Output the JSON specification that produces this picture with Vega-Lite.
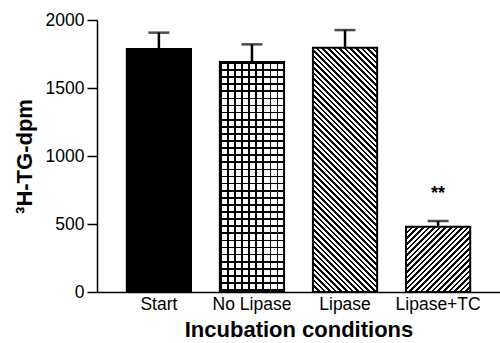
{"$schema":"https://vega.github.io/schema/vega-lite/v6.json","width":403,"height":272,"autosize":{"type":"none"},"padding":{"left":97,"top":20,"right":0,"bottom":51},"background":"white",
"data":{"values":[{"cond":"Start","value":1787,"upper":1907},{"cond":"No Lipase","value":1691,"upper":1821},{"cond":"Lipase","value":1796,"upper":1926},{"cond":"Lipase+TC","value":480,"upper":522,"sig":"**","sigpos":685}]},
"encoding":{"x":{"field":"cond","type":"nominal","title":"Incubation conditions","scale":{"domain":["Start","No Lipase","Lipase","Lipase+TC"],"paddingInner":0.31,"paddingOuter":0.32}}},
"layer":[
{"transform":[{"filter":"datum.cond==='Start'"}],"mark":{"type":"bar","fill":"#000","stroke":"#000","strokeWidth":2},"encoding":{"y":{"field":"value","type":"quantitative","title":"³H-TG-dpm","scale":{"domain":[0,2000],"nice":false}}}},
{"transform":[{"filter":"datum.cond==='No Lipase'"}],"mark":{"type":"bar","strokeWidth":0,"fill":{"gradient":"linear","x1":0,"y1":0,"x2":5.528,"y2":0,"stops":[{"offset":0,"color":"#000"},{"offset":0.005,"color":"#000"},{"offset":0.005,"color":"#fff"},{"offset":0.02,"color":"#fff"},{"offset":0.02,"color":"#000"},{"offset":0.025,"color":"#000"},{"offset":0.025,"color":"#fff"},{"offset":0.04,"color":"#fff"},{"offset":0.04,"color":"#000"},{"offset":0.045,"color":"#000"},{"offset":0.045,"color":"#fff"},{"offset":0.06,"color":"#fff"},{"offset":0.06,"color":"#000"},{"offset":0.065,"color":"#000"},{"offset":0.065,"color":"#fff"},{"offset":0.08,"color":"#fff"},{"offset":0.08,"color":"#000"},{"offset":0.085,"color":"#000"},{"offset":0.085,"color":"#fff"},{"offset":0.1,"color":"#fff"},{"offset":0.1,"color":"#000"},{"offset":0.105,"color":"#000"},{"offset":0.105,"color":"#fff"},{"offset":0.12,"color":"#fff"},{"offset":0.12,"color":"#000"},{"offset":0.125,"color":"#000"},{"offset":0.125,"color":"#fff"},{"offset":0.14,"color":"#fff"},{"offset":0.14,"color":"#000"},{"offset":0.145,"color":"#000"},{"offset":0.145,"color":"#fff"},{"offset":0.16,"color":"#fff"},{"offset":0.16,"color":"#000"},{"offset":0.165,"color":"#000"},{"offset":0.165,"color":"#fff"},{"offset":0.18,"color":"#fff"},{"offset":0.18,"color":"#000"},{"offset":0.185,"color":"#000"},{"offset":0.185,"color":"#fff"},{"offset":0.2,"color":"#fff"}]}},"encoding":{"y":{"field":"value","type":"quantitative","title":"³H-TG-dpm","scale":{"domain":[0,2000],"nice":false}}}},
{"transform":[{"filter":"datum.cond==='No Lipase'"}],"mark":{"type":"bar","stroke":"#000","strokeWidth":2,"fill":{"gradient":"linear","x1":0,"y1":0,"x2":0,"y2":1.5436,"stops":[{"offset":0,"color":"#000"},{"offset":0.005,"color":"#000"},{"offset":0.005,"color":"rgba(0,0,0,0)"},{"offset":0.02,"color":"rgba(0,0,0,0)"},{"offset":0.02,"color":"#000"},{"offset":0.025,"color":"#000"},{"offset":0.025,"color":"rgba(0,0,0,0)"},{"offset":0.04,"color":"rgba(0,0,0,0)"},{"offset":0.04,"color":"#000"},{"offset":0.045,"color":"#000"},{"offset":0.045,"color":"rgba(0,0,0,0)"},{"offset":0.06,"color":"rgba(0,0,0,0)"},{"offset":0.06,"color":"#000"},{"offset":0.065,"color":"#000"},{"offset":0.065,"color":"rgba(0,0,0,0)"},{"offset":0.08,"color":"rgba(0,0,0,0)"},{"offset":0.08,"color":"#000"},{"offset":0.085,"color":"#000"},{"offset":0.085,"color":"rgba(0,0,0,0)"},{"offset":0.1,"color":"rgba(0,0,0,0)"},{"offset":0.1,"color":"#000"},{"offset":0.105,"color":"#000"},{"offset":0.105,"color":"rgba(0,0,0,0)"},{"offset":0.12,"color":"rgba(0,0,0,0)"},{"offset":0.12,"color":"#000"},{"offset":0.125,"color":"#000"},{"offset":0.125,"color":"rgba(0,0,0,0)"},{"offset":0.14,"color":"rgba(0,0,0,0)"},{"offset":0.14,"color":"#000"},{"offset":0.145,"color":"#000"},{"offset":0.145,"color":"rgba(0,0,0,0)"},{"offset":0.16,"color":"rgba(0,0,0,0)"},{"offset":0.16,"color":"#000"},{"offset":0.165,"color":"#000"},{"offset":0.165,"color":"rgba(0,0,0,0)"},{"offset":0.18,"color":"rgba(0,0,0,0)"},{"offset":0.18,"color":"#000"},{"offset":0.185,"color":"#000"},{"offset":0.185,"color":"rgba(0,0,0,0)"},{"offset":0.2,"color":"rgba(0,0,0,0)"},{"offset":0.2,"color":"#000"},{"offset":0.205,"color":"#000"},{"offset":0.205,"color":"rgba(0,0,0,0)"},{"offset":0.22,"color":"rgba(0,0,0,0)"},{"offset":0.22,"color":"#000"},{"offset":0.225,"color":"#000"},{"offset":0.225,"color":"rgba(0,0,0,0)"},{"offset":0.24,"color":"rgba(0,0,0,0)"},{"offset":0.24,"color":"#000"},{"offset":0.245,"color":"#000"},{"offset":0.245,"color":"rgba(0,0,0,0)"},{"offset":0.26,"color":"rgba(0,0,0,0)"},{"offset":0.26,"color":"#000"},{"offset":0.265,"color":"#000"},{"offset":0.265,"color":"rgba(0,0,0,0)"},{"offset":0.28,"color":"rgba(0,0,0,0)"},{"offset":0.28,"color":"#000"},{"offset":0.285,"color":"#000"},{"offset":0.285,"color":"rgba(0,0,0,0)"},{"offset":0.3,"color":"rgba(0,0,0,0)"},{"offset":0.3,"color":"#000"},{"offset":0.305,"color":"#000"},{"offset":0.305,"color":"rgba(0,0,0,0)"},{"offset":0.32,"color":"rgba(0,0,0,0)"},{"offset":0.32,"color":"#000"},{"offset":0.325,"color":"#000"},{"offset":0.325,"color":"rgba(0,0,0,0)"},{"offset":0.34,"color":"rgba(0,0,0,0)"},{"offset":0.34,"color":"#000"},{"offset":0.345,"color":"#000"},{"offset":0.345,"color":"rgba(0,0,0,0)"},{"offset":0.36,"color":"rgba(0,0,0,0)"},{"offset":0.36,"color":"#000"},{"offset":0.365,"color":"#000"},{"offset":0.365,"color":"rgba(0,0,0,0)"},{"offset":0.38,"color":"rgba(0,0,0,0)"},{"offset":0.38,"color":"#000"},{"offset":0.385,"color":"#000"},{"offset":0.385,"color":"rgba(0,0,0,0)"},{"offset":0.4,"color":"rgba(0,0,0,0)"},{"offset":0.4,"color":"#000"},{"offset":0.405,"color":"#000"},{"offset":0.405,"color":"rgba(0,0,0,0)"},{"offset":0.42,"color":"rgba(0,0,0,0)"},{"offset":0.42,"color":"#000"},{"offset":0.425,"color":"#000"},{"offset":0.425,"color":"rgba(0,0,0,0)"},{"offset":0.44,"color":"rgba(0,0,0,0)"},{"offset":0.44,"color":"#000"},{"offset":0.445,"color":"#000"},{"offset":0.445,"color":"rgba(0,0,0,0)"},{"offset":0.46,"color":"rgba(0,0,0,0)"},{"offset":0.46,"color":"#000"},{"offset":0.465,"color":"#000"},{"offset":0.465,"color":"rgba(0,0,0,0)"},{"offset":0.48,"color":"rgba(0,0,0,0)"},{"offset":0.48,"color":"#000"},{"offset":0.485,"color":"#000"},{"offset":0.485,"color":"rgba(0,0,0,0)"},{"offset":0.5,"color":"rgba(0,0,0,0)"},{"offset":0.5,"color":"#000"},{"offset":0.505,"color":"#000"},{"offset":0.505,"color":"rgba(0,0,0,0)"},{"offset":0.52,"color":"rgba(0,0,0,0)"},{"offset":0.52,"color":"#000"},{"offset":0.525,"color":"#000"},{"offset":0.525,"color":"rgba(0,0,0,0)"},{"offset":0.54,"color":"rgba(0,0,0,0)"},{"offset":0.54,"color":"#000"},{"offset":0.545,"color":"#000"},{"offset":0.545,"color":"rgba(0,0,0,0)"},{"offset":0.56,"color":"rgba(0,0,0,0)"},{"offset":0.56,"color":"#000"},{"offset":0.565,"color":"#000"},{"offset":0.565,"color":"rgba(0,0,0,0)"},{"offset":0.58,"color":"rgba(0,0,0,0)"},{"offset":0.58,"color":"#000"},{"offset":0.585,"color":"#000"},{"offset":0.585,"color":"rgba(0,0,0,0)"},{"offset":0.6,"color":"rgba(0,0,0,0)"},{"offset":0.6,"color":"#000"},{"offset":0.605,"color":"#000"},{"offset":0.605,"color":"rgba(0,0,0,0)"},{"offset":0.62,"color":"rgba(0,0,0,0)"},{"offset":0.62,"color":"#000"},{"offset":0.625,"color":"#000"},{"offset":0.625,"color":"rgba(0,0,0,0)"},{"offset":0.64,"color":"rgba(0,0,0,0)"},{"offset":0.64,"color":"#000"},{"offset":0.645,"color":"#000"},{"offset":0.645,"color":"rgba(0,0,0,0)"},{"offset":0.66,"color":"rgba(0,0,0,0)"}]}},"encoding":{"y":{"field":"value","type":"quantitative","title":"³H-TG-dpm","scale":{"domain":[0,2000],"nice":false}}}},
{"transform":[{"filter":"datum.cond==='Lipase'"}],"mark":{"type":"bar","stroke":"#000","strokeWidth":2,"fill":{"gradient":"linear","x1":0,"y1":1,"x2":0.3757,"y2":-0.4293,"stops":[{"offset":0,"color":"#000"},{"offset":0.007,"color":"#000"},{"offset":0.007,"color":"#fff"},{"offset":0.015,"color":"#fff"},{"offset":0.015,"color":"#000"},{"offset":0.022,"color":"#000"},{"offset":0.022,"color":"#fff"},{"offset":0.03,"color":"#fff"},{"offset":0.03,"color":"#000"},{"offset":0.037,"color":"#000"},{"offset":0.037,"color":"#fff"},{"offset":0.045,"color":"#fff"},{"offset":0.045,"color":"#000"},{"offset":0.052,"color":"#000"},{"offset":0.052,"color":"#fff"},{"offset":0.06,"color":"#fff"},{"offset":0.06,"color":"#000"},{"offset":0.067,"color":"#000"},{"offset":0.067,"color":"#fff"},{"offset":0.075,"color":"#fff"},{"offset":0.075,"color":"#000"},{"offset":0.082,"color":"#000"},{"offset":0.082,"color":"#fff"},{"offset":0.09,"color":"#fff"},{"offset":0.09,"color":"#000"},{"offset":0.097,"color":"#000"},{"offset":0.097,"color":"#fff"},{"offset":0.105,"color":"#fff"},{"offset":0.105,"color":"#000"},{"offset":0.112,"color":"#000"},{"offset":0.112,"color":"#fff"},{"offset":0.12,"color":"#fff"},{"offset":0.12,"color":"#000"},{"offset":0.127,"color":"#000"},{"offset":0.127,"color":"#fff"},{"offset":0.135,"color":"#fff"},{"offset":0.135,"color":"#000"},{"offset":0.142,"color":"#000"},{"offset":0.142,"color":"#fff"},{"offset":0.15,"color":"#fff"},{"offset":0.15,"color":"#000"},{"offset":0.157,"color":"#000"},{"offset":0.157,"color":"#fff"},{"offset":0.165,"color":"#fff"},{"offset":0.165,"color":"#000"},{"offset":0.172,"color":"#000"},{"offset":0.172,"color":"#fff"},{"offset":0.18,"color":"#fff"},{"offset":0.18,"color":"#000"},{"offset":0.187,"color":"#000"},{"offset":0.187,"color":"#fff"},{"offset":0.195,"color":"#fff"},{"offset":0.195,"color":"#000"},{"offset":0.202,"color":"#000"},{"offset":0.202,"color":"#fff"},{"offset":0.21,"color":"#fff"},{"offset":0.21,"color":"#000"},{"offset":0.217,"color":"#000"},{"offset":0.217,"color":"#fff"},{"offset":0.225,"color":"#fff"},{"offset":0.225,"color":"#000"},{"offset":0.232,"color":"#000"},{"offset":0.232,"color":"#fff"},{"offset":0.24,"color":"#fff"},{"offset":0.24,"color":"#000"},{"offset":0.247,"color":"#000"},{"offset":0.247,"color":"#fff"},{"offset":0.255,"color":"#fff"},{"offset":0.255,"color":"#000"},{"offset":0.262,"color":"#000"},{"offset":0.262,"color":"#fff"},{"offset":0.27,"color":"#fff"},{"offset":0.27,"color":"#000"},{"offset":0.277,"color":"#000"},{"offset":0.277,"color":"#fff"},{"offset":0.285,"color":"#fff"},{"offset":0.285,"color":"#000"},{"offset":0.292,"color":"#000"},{"offset":0.292,"color":"#fff"},{"offset":0.3,"color":"#fff"},{"offset":0.3,"color":"#000"},{"offset":0.307,"color":"#000"},{"offset":0.307,"color":"#fff"},{"offset":0.315,"color":"#fff"},{"offset":0.315,"color":"#000"},{"offset":0.322,"color":"#000"},{"offset":0.322,"color":"#fff"},{"offset":0.33,"color":"#fff"},{"offset":0.33,"color":"#000"},{"offset":0.337,"color":"#000"},{"offset":0.337,"color":"#fff"},{"offset":0.345,"color":"#fff"},{"offset":0.345,"color":"#000"},{"offset":0.352,"color":"#000"},{"offset":0.352,"color":"#fff"},{"offset":0.36,"color":"#fff"},{"offset":0.36,"color":"#000"},{"offset":0.367,"color":"#000"},{"offset":0.367,"color":"#fff"},{"offset":0.375,"color":"#fff"},{"offset":0.375,"color":"#000"},{"offset":0.382,"color":"#000"},{"offset":0.382,"color":"#fff"},{"offset":0.39,"color":"#fff"},{"offset":0.39,"color":"#000"},{"offset":0.397,"color":"#000"},{"offset":0.397,"color":"#fff"},{"offset":0.405,"color":"#fff"},{"offset":0.405,"color":"#000"},{"offset":0.412,"color":"#000"},{"offset":0.412,"color":"#fff"},{"offset":0.42,"color":"#fff"},{"offset":0.42,"color":"#000"},{"offset":0.427,"color":"#000"},{"offset":0.427,"color":"#fff"},{"offset":0.435,"color":"#fff"},{"offset":0.435,"color":"#000"},{"offset":0.442,"color":"#000"},{"offset":0.442,"color":"#fff"},{"offset":0.45,"color":"#fff"},{"offset":0.45,"color":"#000"},{"offset":0.457,"color":"#000"},{"offset":0.457,"color":"#fff"},{"offset":0.465,"color":"#fff"},{"offset":0.465,"color":"#000"},{"offset":0.472,"color":"#000"},{"offset":0.472,"color":"#fff"},{"offset":0.48,"color":"#fff"},{"offset":0.48,"color":"#000"},{"offset":0.487,"color":"#000"},{"offset":0.487,"color":"#fff"},{"offset":0.495,"color":"#fff"},{"offset":0.495,"color":"#000"},{"offset":0.502,"color":"#000"},{"offset":0.502,"color":"#fff"},{"offset":0.51,"color":"#fff"},{"offset":0.51,"color":"#000"},{"offset":0.517,"color":"#000"},{"offset":0.517,"color":"#fff"},{"offset":0.525,"color":"#fff"},{"offset":0.525,"color":"#000"},{"offset":0.532,"color":"#000"},{"offset":0.532,"color":"#fff"},{"offset":0.54,"color":"#fff"},{"offset":0.54,"color":"#000"},{"offset":0.547,"color":"#000"},{"offset":0.547,"color":"#fff"},{"offset":0.555,"color":"#fff"},{"offset":0.555,"color":"#000"},{"offset":0.562,"color":"#000"},{"offset":0.562,"color":"#fff"},{"offset":0.57,"color":"#fff"},{"offset":0.57,"color":"#000"},{"offset":0.577,"color":"#000"},{"offset":0.577,"color":"#fff"},{"offset":0.585,"color":"#fff"},{"offset":0.585,"color":"#000"},{"offset":0.592,"color":"#000"},{"offset":0.592,"color":"#fff"},{"offset":0.6,"color":"#fff"},{"offset":0.6,"color":"#000"},{"offset":0.607,"color":"#000"},{"offset":0.607,"color":"#fff"},{"offset":0.615,"color":"#fff"},{"offset":0.615,"color":"#000"},{"offset":0.622,"color":"#000"},{"offset":0.622,"color":"#fff"},{"offset":0.63,"color":"#fff"},{"offset":0.63,"color":"#000"},{"offset":0.637,"color":"#000"},{"offset":0.637,"color":"#fff"},{"offset":0.645,"color":"#fff"},{"offset":0.645,"color":"#000"},{"offset":0.652,"color":"#000"},{"offset":0.652,"color":"#fff"},{"offset":0.66,"color":"#fff"},{"offset":0.66,"color":"#000"},{"offset":0.667,"color":"#000"},{"offset":0.667,"color":"#fff"},{"offset":0.675,"color":"#fff"},{"offset":0.675,"color":"#000"},{"offset":0.682,"color":"#000"},{"offset":0.682,"color":"#fff"},{"offset":0.69,"color":"#fff"},{"offset":0.69,"color":"#000"},{"offset":0.697,"color":"#000"},{"offset":0.697,"color":"#fff"},{"offset":0.705,"color":"#fff"},{"offset":0.705,"color":"#000"},{"offset":0.712,"color":"#000"},{"offset":0.712,"color":"#fff"},{"offset":0.72,"color":"#fff"},{"offset":0.72,"color":"#000"},{"offset":0.727,"color":"#000"},{"offset":0.727,"color":"#fff"},{"offset":0.735,"color":"#fff"},{"offset":0.735,"color":"#000"},{"offset":0.742,"color":"#000"},{"offset":0.742,"color":"#fff"},{"offset":0.75,"color":"#fff"},{"offset":0.75,"color":"#000"},{"offset":0.757,"color":"#000"},{"offset":0.757,"color":"#fff"},{"offset":0.765,"color":"#fff"},{"offset":0.765,"color":"#000"},{"offset":0.772,"color":"#000"},{"offset":0.772,"color":"#fff"},{"offset":0.78,"color":"#fff"},{"offset":0.78,"color":"#000"},{"offset":0.787,"color":"#000"},{"offset":0.787,"color":"#fff"},{"offset":0.795,"color":"#fff"},{"offset":0.795,"color":"#000"},{"offset":0.802,"color":"#000"},{"offset":0.802,"color":"#fff"},{"offset":0.81,"color":"#fff"},{"offset":0.81,"color":"#000"},{"offset":0.817,"color":"#000"},{"offset":0.817,"color":"#fff"},{"offset":0.825,"color":"#fff"},{"offset":0.825,"color":"#000"},{"offset":0.832,"color":"#000"},{"offset":0.832,"color":"#fff"},{"offset":0.84,"color":"#fff"}]}},"encoding":{"y":{"field":"value","type":"quantitative","title":"³H-TG-dpm","scale":{"domain":[0,2000],"nice":false}}}},
{"transform":[{"filter":"datum.cond==='Lipase+TC'"}],"mark":{"type":"bar","stroke":"#000","strokeWidth":2,"fill":{"gradient":"linear","x1":0,"y1":0,"x2":2.858,"y2":2.906,"stops":[{"offset":0,"color":"#000"},{"offset":0.007,"color":"#000"},{"offset":0.007,"color":"#fff"},{"offset":0.015,"color":"#fff"},{"offset":0.015,"color":"#000"},{"offset":0.022,"color":"#000"},{"offset":0.022,"color":"#fff"},{"offset":0.03,"color":"#fff"},{"offset":0.03,"color":"#000"},{"offset":0.037,"color":"#000"},{"offset":0.037,"color":"#fff"},{"offset":0.045,"color":"#fff"},{"offset":0.045,"color":"#000"},{"offset":0.052,"color":"#000"},{"offset":0.052,"color":"#fff"},{"offset":0.06,"color":"#fff"},{"offset":0.06,"color":"#000"},{"offset":0.067,"color":"#000"},{"offset":0.067,"color":"#fff"},{"offset":0.075,"color":"#fff"},{"offset":0.075,"color":"#000"},{"offset":0.082,"color":"#000"},{"offset":0.082,"color":"#fff"},{"offset":0.09,"color":"#fff"},{"offset":0.09,"color":"#000"},{"offset":0.097,"color":"#000"},{"offset":0.097,"color":"#fff"},{"offset":0.105,"color":"#fff"},{"offset":0.105,"color":"#000"},{"offset":0.112,"color":"#000"},{"offset":0.112,"color":"#fff"},{"offset":0.12,"color":"#fff"},{"offset":0.12,"color":"#000"},{"offset":0.127,"color":"#000"},{"offset":0.127,"color":"#fff"},{"offset":0.135,"color":"#fff"},{"offset":0.135,"color":"#000"},{"offset":0.142,"color":"#000"},{"offset":0.142,"color":"#fff"},{"offset":0.15,"color":"#fff"},{"offset":0.15,"color":"#000"},{"offset":0.157,"color":"#000"},{"offset":0.157,"color":"#fff"},{"offset":0.165,"color":"#fff"},{"offset":0.165,"color":"#000"},{"offset":0.172,"color":"#000"},{"offset":0.172,"color":"#fff"},{"offset":0.18,"color":"#fff"},{"offset":0.18,"color":"#000"},{"offset":0.187,"color":"#000"},{"offset":0.187,"color":"#fff"},{"offset":0.195,"color":"#fff"},{"offset":0.195,"color":"#000"},{"offset":0.202,"color":"#000"},{"offset":0.202,"color":"#fff"},{"offset":0.21,"color":"#fff"},{"offset":0.21,"color":"#000"},{"offset":0.217,"color":"#000"},{"offset":0.217,"color":"#fff"},{"offset":0.225,"color":"#fff"},{"offset":0.225,"color":"#000"},{"offset":0.232,"color":"#000"},{"offset":0.232,"color":"#fff"},{"offset":0.24,"color":"#fff"},{"offset":0.24,"color":"#000"},{"offset":0.247,"color":"#000"},{"offset":0.247,"color":"#fff"},{"offset":0.255,"color":"#fff"},{"offset":0.255,"color":"#000"},{"offset":0.262,"color":"#000"},{"offset":0.262,"color":"#fff"},{"offset":0.27,"color":"#fff"},{"offset":0.27,"color":"#000"},{"offset":0.277,"color":"#000"},{"offset":0.277,"color":"#fff"},{"offset":0.285,"color":"#fff"},{"offset":0.285,"color":"#000"},{"offset":0.292,"color":"#000"},{"offset":0.292,"color":"#fff"},{"offset":0.3,"color":"#fff"},{"offset":0.3,"color":"#000"},{"offset":0.307,"color":"#000"},{"offset":0.307,"color":"#fff"},{"offset":0.315,"color":"#fff"},{"offset":0.315,"color":"#000"},{"offset":0.322,"color":"#000"},{"offset":0.322,"color":"#fff"},{"offset":0.33,"color":"#fff"},{"offset":0.33,"color":"#000"},{"offset":0.337,"color":"#000"},{"offset":0.337,"color":"#fff"},{"offset":0.345,"color":"#fff"},{"offset":0.345,"color":"#000"},{"offset":0.352,"color":"#000"},{"offset":0.352,"color":"#fff"},{"offset":0.36,"color":"#fff"}]}},"encoding":{"y":{"field":"value","type":"quantitative","title":"³H-TG-dpm","scale":{"domain":[0,2000],"nice":false}}}},
{"mark":{"type":"rule","color":"#000","strokeWidth":2.5},"encoding":{"y":{"field":"value","type":"quantitative","title":"³H-TG-dpm","scale":{"domain":[0,2000],"nice":false}},"y2":{"field":"upper"}}},
{"mark":{"type":"tick","color":"#000","size":21,"thickness":2.5,"orient":"horizontal"},"encoding":{"y":{"field":"upper","type":"quantitative","title":"³H-TG-dpm","scale":{"domain":[0,2000],"nice":false}}}},
{"transform":[{"filter":"datum.sig"}],"mark":{"type":"text","color":"#000","font":"Liberation Sans","fontSize":18,"fontWeight":"bold","baseline":"alphabetic","align":"center"},"encoding":{"y":{"field":"sigpos","type":"quantitative","title":"³H-TG-dpm","scale":{"domain":[0,2000],"nice":false}},"text":{"field":"sig"}}}
],
"config":{"view":{"stroke":null},"axis":{"labelFont":"Liberation Sans","titleFont":"Liberation Sans","labelColor":"#000","titleColor":"#000","domainColor":"#000","tickColor":"#000","grid":false,"labelFontSize":17.5,"titleFontSize":22,"titleFontWeight":"bold","domainWidth":1.5,"tickWidth":1.5},"axisX":{"ticks":false,"tickSize":0,"labelPadding":3,"labelAngle":0,"titlePadding":7},"axisY":{"tickSize":10,"labelPadding":3,"tickCount":5,"format":"d","titlePadding":9}}}
